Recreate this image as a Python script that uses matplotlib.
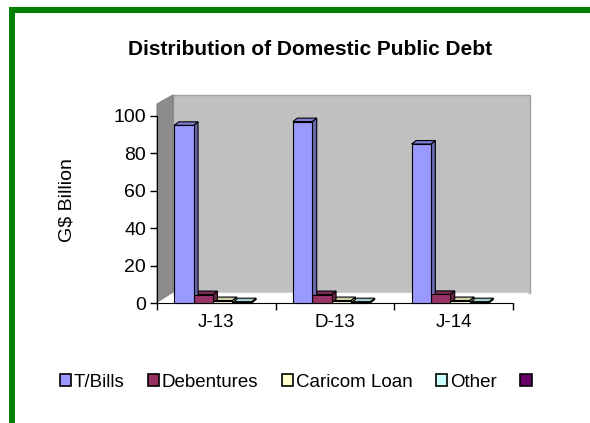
import numpy as np
import matplotlib
matplotlib.use("Agg")
import matplotlib.pyplot as plt
from matplotlib.patches import Polygon, Rectangle, Patch
from matplotlib.colors import to_rgb

plt.rcParams['font.family'] = ['Liberation Sans', 'DejaVu Sans']

categories = ['J-13', 'D-13', 'J-14']
series_names = ['T/Bills', 'Debentures', 'Caricom Loan', 'Other', '']
tbills = [95, 97, 85]
debentures = [4.5, 4.5, 4.6]
caricom = [1.3, 1.3, 1.3]
other = [0.7, 0.7, 0.7]
extra = [0, 0, 0]
colors = ['#9999FF', '#993366', '#FFFFCC', '#CCFFFF', '#660066']

W, H = 590, 423
fig = plt.figure(figsize=(W / 100, H / 100), dpi=100)


def fp(x, y):
    # pixel (top-left origin) -> figure fraction
    return (x / W, 1 - y / H)


# green frame
fig.patches.append(Rectangle(fp(9, 13), (W - 9) / W, 6 / H, transform=fig.transFigure,
                             facecolor='#008000', edgecolor='none', zorder=5))
fig.patches.append(Rectangle(fp(9, H), 6 / W, (H - 7) / H, transform=fig.transFigure,
                             facecolor='#008000', edgecolor='none', zorder=5))

# 3D walls and floor
fig.patches.append(Polygon([fp(173, 95), fp(530, 95), fp(530, 292.7), fp(173, 292.7)],
                           closed=True, transform=fig.transFigure, facecolor='#C0C0C0',
                           edgecolor='#A0A0A0', lw=1, zorder=-2))
fig.patches.append(Polygon([fp(157, 303), fp(157, 104), fp(173, 95), fp(173, 292.7)],
                           closed=True, transform=fig.transFigure, facecolor='#8C8C8C',
                           edgecolor='#808080', lw=0.8, zorder=-2))
fig.patches.append(Polygon([fp(157, 303), fp(513, 303), fp(530, 292.7), fp(173, 292.7)],
                           closed=True, transform=fig.transFigure, facecolor='white',
                           edgecolor='none', zorder=-2))

ax = fig.add_axes([157 / W, (H - 303) / H, 356 / W, 187 / H])
ax.patch.set_visible(False)
ax.set_xlim(0, 3)
ax.set_ylim(0, 100)

values = [tbills, debentures, caricom, other, extra]
bw = 0.163
start = 0.145
dx = 4.5 / 356 * 3
dy = 3.5 / 187 * 100


def shade(c, f):
    r, g, b = to_rgb(c)
    return (r * f, g * f, b * f)


for k, (vals, c) in enumerate(zip(values, colors)):
    for i, v in enumerate(vals):
        if v <= 0:
            continue
        x0 = i + start + k * bw
        x1 = x0 + bw
        ax.bar(x0, v, width=bw, align='edge', color=c, edgecolor='black', lw=0.8,
               zorder=3 + 0.01 * (5 - k), clip_on=False)
        ax.add_patch(Polygon([(x1, 0), (x1 + dx, dy), (x1 + dx, v + dy), (x1, v)],
                             closed=True, facecolor=shade(c, 0.68), edgecolor='black',
                             lw=0.8, zorder=2.9 + 0.01 * (5 - k), clip_on=False))
        ax.add_patch(Polygon([(x0, v), (x0 + dx, v + dy), (x1 + dx, v + dy), (x1, v)],
                             closed=True, facecolor=shade(c, 0.82), edgecolor='black',
                             lw=0.8, zorder=2.9 + 0.01 * (5 - k), clip_on=False))

ax.spines['top'].set_visible(False)
ax.spines['right'].set_visible(False)
ax.spines['left'].set_color('black')
ax.spines['bottom'].set_color('black')
ax.set_yticks([0, 20, 40, 60, 80, 100])
ax.set_xticks([0, 1, 2, 3])
ax.set_xticklabels([])
ax.set_xticks([0.5, 1.5, 2.5], minor=True)
ax.set_xticklabels(categories, minor=True)
ax.tick_params(axis='x', which='minor', length=0, pad=8, labelsize=13.5)
ax.tick_params(axis='x', which='major', length=5, width=1, direction='out')
ax.tick_params(axis='y', length=5, width=1, direction='out', labelsize=14, pad=3)
ax.set_ylabel('G$ Billion', fontsize=14)
ax.yaxis.set_label_coords(-0.228, 0.55)

fig.text(310 / W, 1 - 49 / H, 'Distribution of Domestic Public Debt', ha='center',
         va='center', fontsize=15, fontweight='bold')

handles = [Patch(facecolor=c, edgecolor='black', lw=1.2) for c in colors]
fig.legend(handles, series_names, loc='center', bbox_to_anchor=(297 / W, 1 - 382 / H),
           ncol=5, frameon=False, fontsize=13.5, handlelength=0.6, handleheight=0.6,
           handletextpad=0.15, columnspacing=1.25)

fig.savefig('out.png', dpi=100)
